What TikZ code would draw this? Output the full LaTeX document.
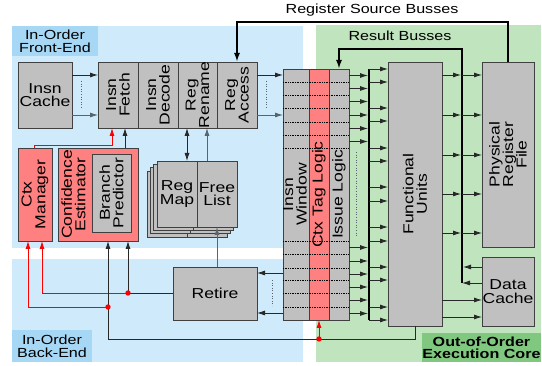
\documentclass[tikz,border=0pt]{standalone}
\usepackage{fontspec}
\setmainfont{Liberation Sans}[FakeStretch=1.22]
\usetikzlibrary{arrows.meta}

\definecolor{bgblue}{RGB}{206,234,251}
\definecolor{tagblue}{RGB}{166,216,246}
\definecolor{bggreen}{RGB}{192,228,190}
\definecolor{taggreen}{RGB}{128,200,128}
\definecolor{boxgray}{RGB}{192,192,192}
\definecolor{boxred}{RGB}{255,128,128}
\definecolor{edge}{RGB}{64,64,64}
\definecolor{wire}{RGB}{40,40,40}
\definecolor{softwire}{RGB}{90,100,110}

\begin{document}
\begin{tikzpicture}[x=1pt,y=-1pt,
  box/.style={draw=edge,fill=boxgray,line width=0.8pt,inner sep=0pt,outer sep=0pt,
    anchor=north west,align=center,font=\fontsize{14.4}{13.6}\selectfont},
  redbox/.style={box,fill=boxred},
  rot/.style={rotate=90,align=center,inner sep=0pt,font=\fontsize{14.4}{13.6}\selectfont},
  zone/.style={inner sep=0pt,outer sep=0pt,anchor=north west,align=center,
    font=\fontsize{13.2}{12.9}\selectfont},
  title/.style={inner sep=0pt,font=\fontsize{13.2}{12.9}\selectfont},
  wireline/.style={draw=wire,line width=0.8pt},
  arr/.style={wireline,-{Latex[length=8pt,width=5pt]}},
  softarr/.style={arr,draw=softwire},
  dblarr/.style={wireline,{Latex[length=8pt,width=5pt]}-{Latex[length=8pt,width=5pt]}},
  redarr/.style={draw=red,line width=0.8pt,-{Latex[length=8pt,width=5pt]}},
  bus/.style={draw=black,line width=2.6pt},
  busarr/.style={bus,-{Latex[length=9pt,width=6pt]}},
  gapdots/.style={draw=softwire,line width=0.6pt,dotted},
  rowdots/.style={draw=black,line width=0.7pt,densely dotted},
]
\useasboundingbox (0,0) rectangle (542,366);

% regions
\fill[bgblue] (12,26) rectangle (303,248);
\fill[bgblue] (12,259) rectangle (303,362);
\fill[bggreen] (316,25) rectangle (541,362);

\node[zone,fill=tagblue,minimum width=86pt,minimum height=30pt] (fezone) at (12,26) {In-Order\\Front-End};
\node[zone,fill=tagblue,minimum width=80pt,minimum height=32pt] (bezone) at (12,330) {In-Order\\Back-End};
\node[zone,fill=taggreen,minimum width=119pt,minimum height=29pt,
  font=\bfseries\fontsize{13.2}{12}\selectfont] (oozone) at (422,333) {Out-of-Order\\Execution Core};

% bus titles
\node[title] (srcbus) at (372,10) {Register Source Busses};
\node[title] (resbus) at (400,36) {Result Busses};

% front-end pipeline
\node[box,minimum width=54pt,minimum height=66pt] (cache) at (18,62) {Insn\\Cache};
\node[box,minimum width=40pt,minimum height=66pt] (fetch) at (98,62) {};
\node[box,minimum width=40pt,minimum height=66pt] (decode) at (138,62) {};
\node[box,minimum width=39pt,minimum height=66pt] (rename) at (178,62) {};
\node[box,minimum width=40pt,minimum height=66pt] (access) at (217,62) {};
\node[rot] at (fetch) {Insn\\Fetch};
\node[rot] at (decode) {Insn\\Decode};
\node[rot] at (rename) {Reg\\Rename};
\node[rot] at (access) {Reg\\Access};

% context and branch prediction
\node[redbox,minimum width=34pt,minimum height=93pt] (ctxmgr) at (18,148) {};
\node[rot] at (ctxmgr) {Ctx\\Manager};
\node[redbox,minimum width=80pt,minimum height=93pt] (conf) at (58,148) {};
\node[rot] at (73.5,194.5) {Confidence\\Estimator};
\node[box,minimum width=39pt,minimum height=78pt] (bpred) at (92,154) {};
\node[rot] at (bpred) {Branch\\Predictor};

% stacked rename tables
\foreach \d in {10,6.7,3.3} {
  \draw[draw=edge,fill=boxgray,line width=0.8pt] (157-\d,161+\d) rectangle (197-\d,227+\d);
  \draw[draw=edge,fill=boxgray,line width=0.8pt] (197-\d,161+\d) rectangle (237-\d,227+\d);
}
\node[box,minimum width=40pt,minimum height=66pt] (regmap) at (157,161) {Reg\\Map};
\node[box,minimum width=40pt,minimum height=66pt] (freelist) at (197,161) {Free\\List};

\node[box,minimum width=84pt,minimum height=53pt] (retire) at (173,267) {Retire};

% instruction window
\node[box,minimum width=26pt,minimum height=251pt] (window) at (283,69) {};
\node[redbox,minimum width=20pt,minimum height=251pt] (ctxtag) at (309,69) {};
\node[box,minimum width=20pt,minimum height=251pt] (issue) at (329,69) {};
\foreach \y in {82,95,108,122,135,148,241,254,268,280,293,307}
  \draw[rowdots] (window.west |- 0,\y) -- (issue.east |- 0,\y);
\node[rot] at (295,194.5) {Insn\\Window};
\node[rot] at (ctxtag) {Ctx Tag Logic};
\node[rot] at (issue) {Issue Logic};

% execution core
\node[box,minimum width=54pt,minimum height=264pt] (fu) at (388,62) {};
\node[rot] at (fu) {Functional\\Units};
\node[box,minimum width=52pt,minimum height=185pt] (prf) at (482,62) {};
\node[rot] at (prf) {Physical\\Register\\File};
\node[box,minimum width=52pt,minimum height=69pt] (dc) at (482,257) {Data\\Cache};

% fetch path
\draw[arr] (cache.east |- 0,75) -- (fetch.west |- 0,75);
\draw[softarr] (cache.east |- 0,115) -- (fetch.west |- 0,115);
\draw[gapdots] (81,81) -- (81,108);
\draw[arr] (access.east |- 0,75) -- (window.west |- 0,75);
\draw[softarr] (access.east |- 0,115) -- (window.west |- 0,115);
\draw[gapdots] (266,81) -- (266,108);

\draw[arr] (conf.north -| 125,0) -- (fetch.south -| 125,0);
\draw[redarr] (ctxmgr.north -| 34,0) -- (34,145) -- (112,145) -- (fetch.south -| 112,0);

% rename tables
\draw[dblarr] (rename.south -| 187,0) -- (regmap.north -| 187,0);
\draw[softarr] (freelist.north -| 207,0) -- (rename.south -| 207,0);
\draw[softarr] (retire.north -| freelist.south) -- (freelist.south);

% busses
\coordinate (rbfoot) at (462,283);
\draw[busarr] (prf.north) -- (508,22) -- (237,22) -- (access.north);
\draw[busarr] (rbfoot) -- (462,49) -- (339,49) -- (issue.north);
\coordinate (istop) at (369,69);
\coordinate (isbot) at (369,320);
\draw[bus] (istop) -- (isbot);

% issue to functional units
\foreach \y in {75.5,88.5,101.5,115,128.5,141.5,247.5,261,274,287,300,313.5}
  \draw[arr] (issue.east |- 0,\y) -- (368,\y);
\foreach \y in {69,82,108,121,148,161,187,201,227,241,267,280,307,320}
  \draw[arr] (369,\y) -- (fu.west |- 0,\y);
\draw[gapdots] (356,152) -- (356,236);

% results
\foreach \y in {75,115,155,194,233} {
  \draw[arr] (fu.east |- 0,\y) -- (461,\y);
  \draw[arr] (462,\y) -- (prf.west |- 0,\y);
}
\draw[arr] (dc.west |- 0,267) -- (463,267);
\draw[arr] (dc.west |- 0,283) -- (rbfoot);
\draw[arr] (fu.east |- 0,300) -- (dc.west |- 0,300);
\draw[arr] (fu.east |- 0,317) -- (dc.west |- 0,317);

% retirement
\draw[arr] (window.west |- 0,273) -- (retire.east |- 0,273);
\draw[arr] (window.west |- 0,313) -- (retire.east |- 0,313);
\draw[gapdots] (272,280) -- (272,306);

\coordinate (j1) at (128,293);
\coordinate (j2) at (108,307);
\coordinate (j3) at (319,339);
\draw[wireline] (retire.west |- j1) -- (j1);
\draw[arr] (j1) -- (conf.south -| j1);
\draw[redarr] (j1) -- (42,293) -- (ctxmgr.south -| 42,0);
\draw[arr] (fu.south) -- (415,339) -- (108,339) -- (conf.south -| 108,0);
\draw[redarr] (j2) -- (28,307) -- (ctxmgr.south -| 28,0);
\draw[redarr] (j3) -- (ctxtag.south);
\foreach \j in {j1,j2,j3} \fill[red] (\j) circle (2.7);
\end{tikzpicture}
\end{document}
